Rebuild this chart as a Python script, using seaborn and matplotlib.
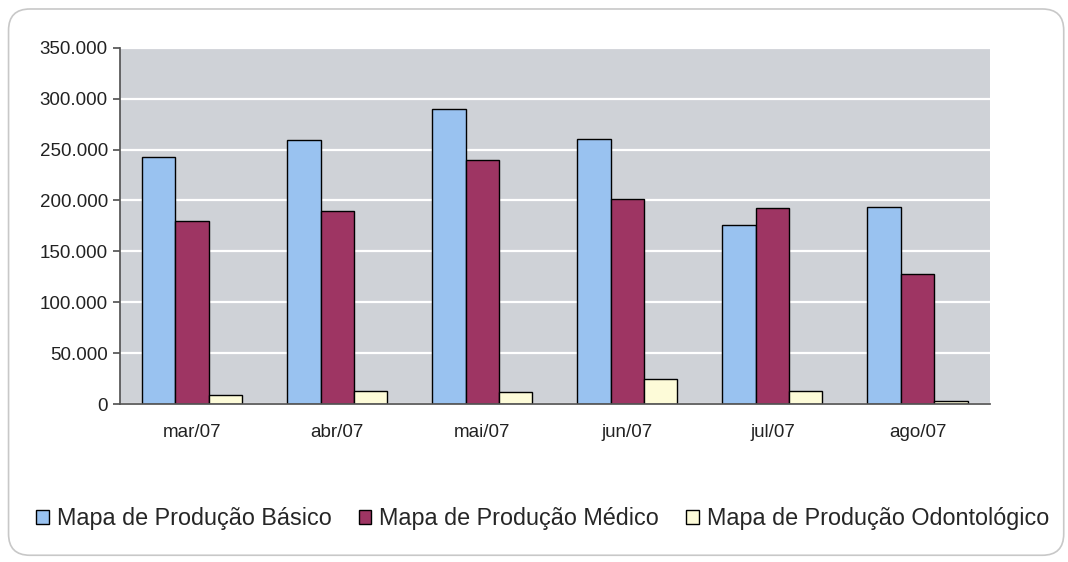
import numpy as np
import matplotlib
matplotlib.use("Agg")
import matplotlib.pyplot as plt
import matplotlib.ticker as mticker
from matplotlib.patches import FancyBboxPatch, Patch
import seaborn as sns
import pandas as pd

months = ['mar/07', 'abr/07', 'mai/07', 'jun/07', 'jul/07', 'ago/07']
series = ['Mapa de Produção Básico', 'Mapa de Produção Médico', 'Mapa de Produção Odontológico']
basico = [243000, 259000, 290000, 260000, 176000, 194000]
medico = [180000, 190000, 240000, 201000, 193000, 128000]
odonto = [9000, 13000, 12000, 25000, 13000, 3500]
colors = ['#99c2f0', '#9e3563', '#fdfbd8']

rows = []
for name, vals in zip(series, [basico, medico, odonto]):
    for m, v in zip(months, vals):
        rows.append({'Mês': m, 'Valor': v, 'Série': name})
df = pd.DataFrame(rows)

sns.set_theme(style="white")
plt.rcParams['font.family'] = ['Liberation Sans', 'DejaVu Sans']

fig = plt.figure(figsize=(10.68, 5.62), dpi=100)
fig.patch.set_facecolor('white')
border = FancyBboxPatch((0.008, 0.012), 0.988, 0.972, boxstyle="round,pad=0,rounding_size=0.02",
                        transform=fig.transFigure, facecolor='none', edgecolor='#c8c8c8',
                        linewidth=1.2, mutation_aspect=1068 / 562, zorder=-1)
fig.patches.append(border)

ax = fig.add_axes([0.112, 0.281, 0.815, 0.634])
ax.set_facecolor('#cfd2d7')
sns.barplot(data=df, x='Mês', y='Valor', hue='Série', palette=colors, width=0.69,
            edgecolor='black', linewidth=1.0, ax=ax, legend=False, saturation=1)

ax.set_ylim(0, 350000)
ax.set_xlim(-0.5, 5.5)
ax.yaxis.set_major_locator(mticker.MultipleLocator(50000))
ax.yaxis.set_major_formatter(mticker.FuncFormatter(lambda v, p: '0' if v == 0 else f'{int(v):,}'.replace(',', '.')))
ax.yaxis.grid(True, color='white', linewidth=1.6)
ax.set_axisbelow(True)
ax.set_xlabel('')
ax.set_ylabel('')

for s in ['top', 'right']:
    ax.spines[s].set_visible(False)
ax.spines['left'].set_color('#555555')
ax.spines['bottom'].set_color('#555555')

ax.set_xticks(np.arange(-0.5, 6.0, 1.0), minor=True)
ax.tick_params(axis='x', which='major', length=0, pad=14, labelsize=13.5, colors='#222222')
ax.tick_params(axis='x', which='minor', length=5, color='#555555', direction='out')
ax.tick_params(axis='y', which='major', length=5, color='#555555', labelsize=13.5, colors='#222222', left=True)

handles = [Patch(facecolor=c, edgecolor='black', linewidth=1.0) for c in colors]
fig.legend(handles, series, loc='center', bbox_to_anchor=(0.508, 0.077), ncol=3, frameon=False,
           fontsize=16.8, handlelength=0.55, handleheight=0.55, handletextpad=0.34, columnspacing=1.15)

fig.savefig('out.png', dpi=100)
